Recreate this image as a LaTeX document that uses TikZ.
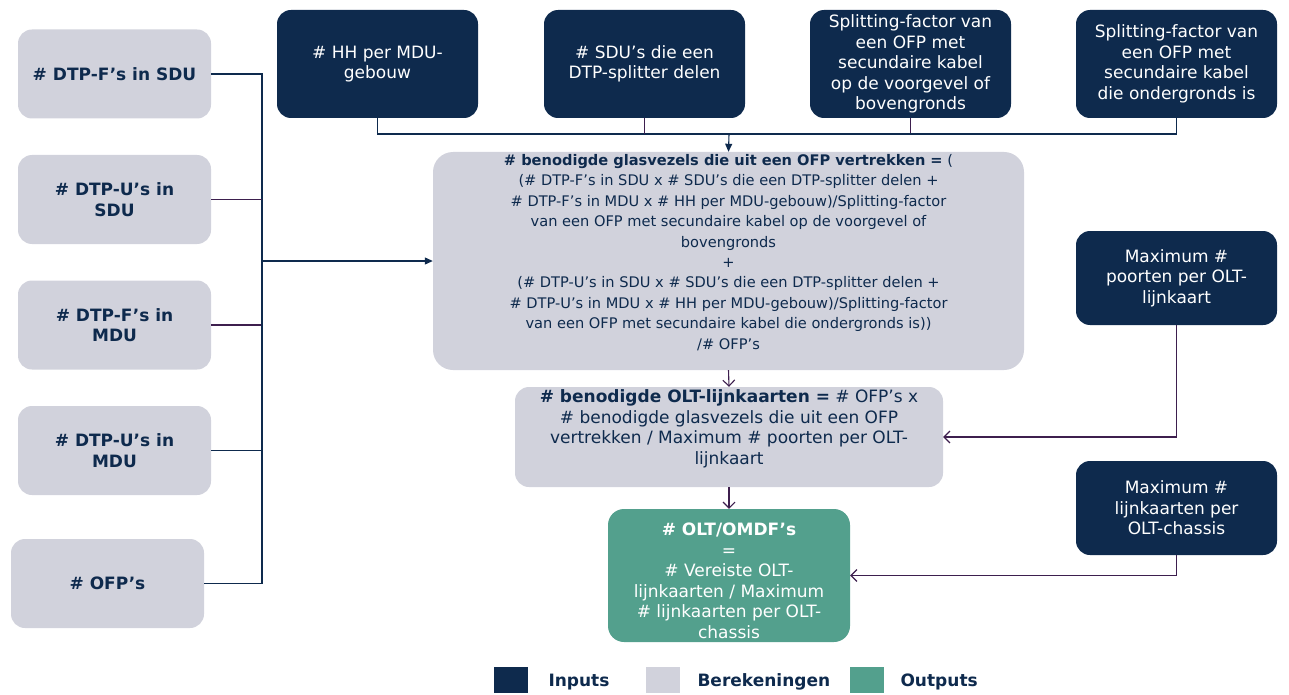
\documentclass[tikz,border=0pt]{standalone}
\usepackage{fontspec}
\setmainfont{DejaVu Sans}
\usetikzlibrary{arrows.meta}
\definecolor{navy}{HTML}{0E2A4D}
\definecolor{calcgray}{HTML}{D1D2DC}
\definecolor{outgreen}{HTML}{53A08D}
\definecolor{linkpurple}{HTML}{3D1F4E}

\begin{document}
\begin{tikzpicture}[x=1pt, y=-1pt, font=\fontsize{17}{20.5}\selectfont,
    inbox/.style={fill=navy, text=white, rounded corners=14pt, align=center, minimum width=201pt, minimum height=108pt},
    leftbox/.style={fill=calcgray, text=navy, font=\fontsize{17}{20.5}\selectfont\bfseries, rounded corners=14pt, align=center, minimum width=193pt, minimum height=89pt},
    calcbox/.style={fill=calcgray, text=navy, rounded corners=20pt, align=center, inner sep=2pt},
    outbox/.style={fill=outgreen, text=white, rounded corners=16pt, align=center, minimum width=242pt, minimum height=133pt},
    link/.style={draw=navy, line width=1.1pt},
    plink/.style={draw=linkpurple, line width=1.1pt},
    busarrow/.style={link, -{Triangle[length=8pt, width=7pt]}},
    barb/.style={plink, -{Straight Barb[length=6pt, width=12pt]}},
    legbox/.style={minimum width=34pt, minimum height=26pt, inner sep=0pt},
    legtext/.style={anchor=west, text=navy, font=\fontsize{17}{20}\selectfont\bfseries}]
    \useasboundingbox (0,0) rectangle (1289,695);

    % inputs left
    \node[leftbox] (fsdu) at (114.5,74) {\# DTP-F’s in SDU};
    \node[leftbox] (usdu) at (114.5,199.5) {\# DTP-U’s in\\SDU};
    \node[leftbox] (fmdu) at (114.5,325) {\# DTP-F’s in\\MDU};
    \node[leftbox] (umdu) at (114.5,450.5) {\# DTP-U’s in\\MDU};
    \node[leftbox] (ofp) at (107.5,583.5) {\# OFP’s};

    % inputs top
    \node[inbox] (hh) at (377.5,64) {\# HH per MDU-\\gebouw};
    \node[inbox] (sdu) at (644.5,64) {\# SDU’s die een\\DTP-splitter delen};
    \node[inbox] (boven) at (910.5,64) {Splitting-factor van\\een OFP met\\secundaire kabel\\op de voorgevel of\\bovengronds};
    \node[inbox] (onder) at (1176.5,64) {Splitting-factor van\\een OFP met\\secundaire kabel\\die ondergronds is};

    % inputs right
    \node[inbox, minimum height=94pt] (maxpoort) at (1176.5,278) {Maximum \#\\poorten per OLT-\\lijnkaart};
    \node[inbox, minimum height=94pt] (maxkaart) at (1176.5,508) {Maximum \#\\lijnkaarten per\\OLT-chassis};

    % berekeningen
    \node[calcbox, font=\fontsize{14.6}{20.4}\selectfont, minimum width=591pt, minimum height=218pt,
          text height=190pt, text depth=14pt] (glas) at (728.5,261)
        {\textbf{\# benodigde glasvezels die uit een OFP vertrekken =} (\\
         (\# DTP-F’s in SDU x \# SDU’s die een DTP-splitter delen +\\
         \# DTP-F’s in MDU x \# HH per MDU-gebouw)/Splitting-factor\\
         van een OFP met secundaire kabel op de voorgevel of\\
         bovengronds\\
         +\\
         (\# DTP-U’s in SDU x \# SDU’s die een DTP-splitter delen +\\
         \# DTP-U’s in MDU x \# HH per MDU-gebouw)/Splitting-factor\\
         van een OFP met secundaire kabel die ondergronds is))\\
         /\# OFP’s};
    \node[calcbox, rounded corners=14pt, minimum width=428pt, minimum height=98pt,
          text height=75pt, text depth=21pt] (kaart) at (729,437)
        {\textbf{\# benodigde OLT-lijnkaarten =} \# OFP’s x\\
         \# benodigde glasvezels die uit een OFP\\
         vertrekken / Maximum \# poorten per OLT-\\
         lijnkaart};

    % output
    \node[outbox, text height=125pt, text depth=0pt] (omdf) at (729,575.5)
        {\textbf{\# OLT/OMDF’s}\\=\\\# Vereiste OLT-\\lijnkaarten / Maximum\\\# lijnkaarten per OLT-\\chassis};

    % verbindingen
    \coordinate (lbus) at (262,261);
    \coordinate (tbus) at (729,134);
    \draw[link] (fsdu.east) -| (lbus);
    \draw[plink] (usdu.east) -- (usdu.east -| lbus);
    \draw[plink] (fmdu.east) -- (fmdu.east -| lbus);
    \draw[link] (umdu.east) -| (lbus);
    \draw[link] (ofp.east) -| (lbus);
    \draw[busarrow] (lbus) -- (glas.west);

    \draw[link] (hh.south) |- (tbus);
    \draw[plink] (sdu.south) -- (sdu.south |- tbus);
    \draw[plink] (boven.south) -- (boven.south |- tbus);
    \draw[link] (onder.south) |- (tbus);
    \draw[busarrow] (tbus) -- (glas.north);

    \draw[barb] (glas.south) -- (kaart.north);
    \draw[barb] (kaart.south) -- (omdf.north);
    \draw[barb] (maxpoort.south) |- (kaart.east);
    \draw[barb] (maxkaart.south) |- (omdf.east);

    % legenda
    \node[legbox, fill=navy] (leginput) at (511,680) {};
    \node[legtext] (leginputtxt) at (545,682) {Inputs};
    \node[legbox, fill=calcgray] (legcalc) at (663,680) {};
    \node[legtext] (legcalctxt) at (694,682) {Berekeningen};
    \node[legbox, fill=outgreen] (legout) at (866.5,680) {};
    \node[legtext] (legouttxt) at (897,682) {Outputs};
\end{tikzpicture}
\end{document}
